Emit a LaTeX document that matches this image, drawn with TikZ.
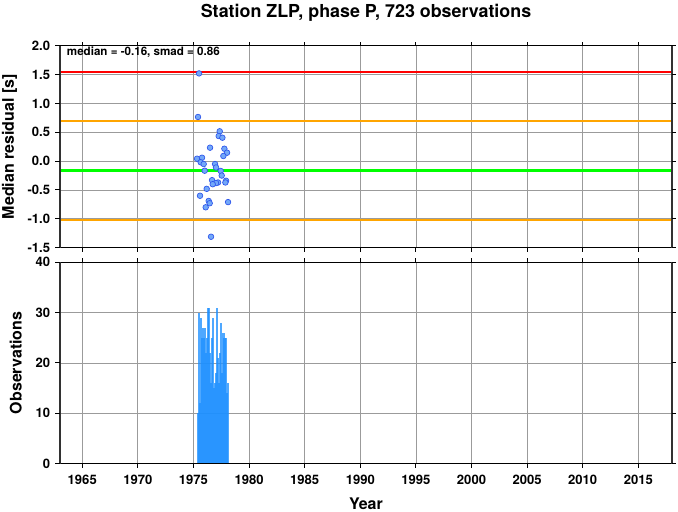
\documentclass[tikz,border=0pt]{standalone}
\usepackage{fontspec}
\setmainfont{TeX Gyre Heros}
\newcommand\yrx[1]{60+(#1-1963)*11.1218}
\newcommand\resy[1]{45.7+(2-(#1))*57.714}
\newcommand\obsy[1]{463.5-(#1)*5.03}
\begin{document}
\begin{tikzpicture}[x=0.75pt,y=-0.75pt,
  gridline/.style={draw={rgb,255:red,155;green,155;blue,155},line width=0.55pt},
  thinframe/.style={draw=black,line width=0.8pt},
  thickframe/.style={draw={rgb,255:red,50;green,50;blue,50},line width=1.5pt},
  tickmark/.style={draw=black,line width=0.75pt},
  ticklbl/.style={inner sep=0pt,font=\bfseries\fontsize{9.8}{11}\selectfont},
  axlbl/.style={inner sep=0pt,font=\bfseries\fontsize{12}{14}\selectfont},
  redline/.style={draw={rgb,255:red,255;green,0;blue,0},line width=1.5pt},
  orangeline/.style={draw={rgb,255:red,255;green,165;blue,0},line width=1.5pt},
  greenline/.style={draw={rgb,255:red,0;green,255;blue,0},line width=2.3pt},
  ptstyle/.style={fill={rgb,255:red,115;green,168;blue,248},draw={rgb,255:red,45;green,85;blue,235},line width=0.5pt},
  barfill/.style={fill={rgb,255:red,30;green,144;blue,255},fill opacity=0.78}]
\path[use as bounding box] (0,0) rectangle (678,511);
% grid
\foreach \yr in {1965,1970,...,2015}{
  \draw[gridline] ({\yrx{\yr}},45.7) -- ({\yrx{\yr}},247.7);
  \draw[gridline] ({\yrx{\yr}},262.3) -- ({\yrx{\yr}},463.5);
}
\foreach \v in {-1,-0.5,0,0.5,1,1.5}{
  \draw[gridline] (60,{\resy{\v}}) -- (671.7,{\resy{\v}});
}
\foreach \v in {10,20,30}{
  \draw[gridline] (60,{\obsy{\v}}) -- (671.7,{\obsy{\v}});
}
% statistics text
\node[inner sep=0pt,anchor=base west,font=\bfseries\fontsize{8.7}{10}\selectfont] (stats) at (66.7,55.7) {median = -0.16, smad = 0.86};
% reference lines
\draw[redline] (60,{\resy{1.545}}) -- (671.7,{\resy{1.545}});
\draw[orangeline] (60,{\resy{0.70}}) -- (671.7,{\resy{0.70}});
\draw[greenline] (60,{\resy{-0.165}}) -- (671.7,{\resy{-0.165}});
\draw[orangeline] (60,{\resy{-1.02}}) -- (671.7,{\resy{-1.02}});
% residual points
\foreach \a/\b in {1975.50/1.52,1975.41/0.765,1977.36/0.517,1977.27/0.435,1977.60/0.406,
  1976.49/0.233,1977.78/0.215,1978.02/0.146,1977.69/0.089,1975.32/0.042,1975.77/0.059,
  1975.65/-0.02,1975.92/-0.05,1976.94/-0.05,1977.03/-0.11,1976.01/-0.166,1977.45/-0.17,
  1977.54/-0.25,1976.67/-0.33,1977.93/-0.34,1977.87/-0.37,1977.21/-0.37,1977.03/-0.38,
  1976.73/-0.40,1976.19/-0.48,1975.59/-0.60,1976.37/-0.69,1976.46/-0.73,1978.11/-0.71,
  1976.10/-0.80,1976.58/-1.31}{
  \draw[ptstyle] ({\yrx{\a}},{\resy{\b}}) circle[radius=2.1pt];
}
% observation bars
\foreach \h [count=\k] in {10,30,12,29,25,27,25,27,22,25,31,31,22,16,25,29,15,16,18,31,21,16,22,28,18,26,25,25,14,16}{
  \fill[barfill] ({196.7+(\k-1)*1.03},463.5) rectangle ++(2.06,{-\h*5.03});
}
% frames
\draw[thinframe] (59.3,45.7) -- (672.4,45.7);
\draw[thinframe] (59.3,247.7) -- (672.4,247.7);
\draw[thickframe] (60,45.7) -- (60,247.7);
\draw[thickframe] (671.7,45.7) -- (671.7,247.7);
\draw[thinframe] (59.3,262.3) -- (672.4,262.3);
\draw[thinframe] (59.3,463.5) -- (672.4,463.5);
\draw[thickframe] (60,262.3) -- (60,463.5);
\draw[thickframe] (671.7,262.3) -- (671.7,463.5);
% x ticks
\foreach \yr in {1965,1970,...,2015}{
  \draw[tickmark] ({\yrx{\yr}},45.7) -- ++(0,-4);
  \draw[tickmark] ({\yrx{\yr}},247.7) -- ++(0,4);
  \draw[tickmark] ({\yrx{\yr}},262.3) -- ++(0,-4);
  \draw[tickmark] ({\yrx{\yr}},463.5) -- ++(0,4);
}
\foreach \yr [count=\k] in {1965,1970,...,2015}{
  \node[ticklbl,anchor=base] (xt\k) at ({\yrx{\yr}},484) {\yr};
}
% y ticks and labels, residual panel
\foreach \v/\t [count=\k] in {2/2.0,1.5/1.5,1/1.0,0.5/0.5,0/0.0,-0.5/-0.5,-1/-1.0,-1.5/-1.5}{
  \draw[tickmark] (60,{\resy{\v}}) -- ++(-5,0);
  \draw[tickmark] (671.7,{\resy{\v}}) -- ++(4.5,0);
  \node[ticklbl,anchor=east] (ry\k) at (50.3,{\resy{\v}}) {\t};
}
% y ticks and labels, observation panel
\foreach \v [count=\k] in {0,10,20,30,40}{
  \draw[tickmark] (60,{\obsy{\v}}) -- ++(-5,0);
  \draw[tickmark] (671.7,{\obsy{\v}}) -- ++(4.5,0);
  \node[ticklbl,anchor=east] (oy\k) at (50.3,{\obsy{\v}}) {\v};
}
% axis labels and title
\node[axlbl,rotate=90,anchor=base] (ylab1) at (13.8,146.7) {Median residual [s]};
\node[axlbl,rotate=90,anchor=base] (ylab2) at (21.7,362.9) {Observations};
\node[axlbl,anchor=base] (xlab) at (366,509) {Year};
\node[inner sep=0pt,anchor=base,font=\bfseries\fontsize{13.4}{15}\selectfont] (title) at (366,17) {Station ZLP, phase P, 723 observations};
\end{tikzpicture}
\end{document}
